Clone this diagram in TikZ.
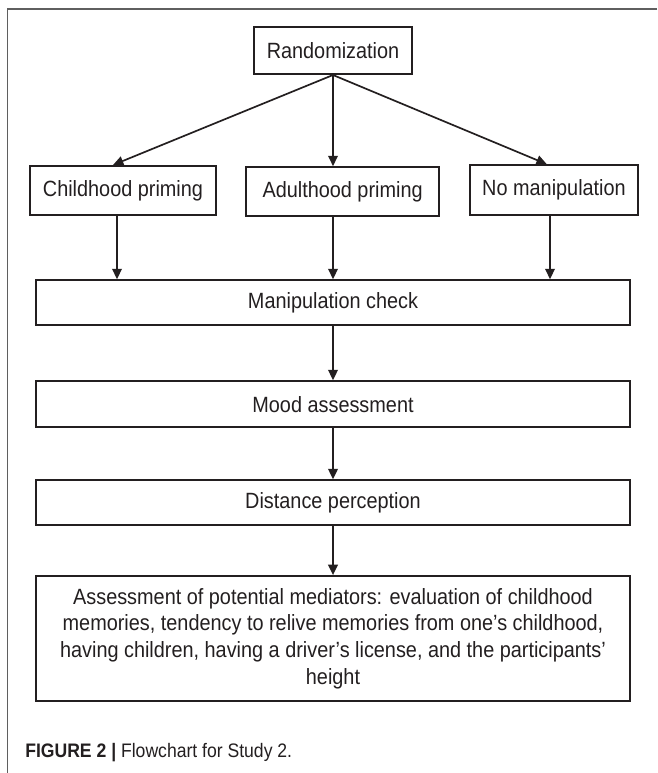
\documentclass[tikz,border=0pt]{standalone}
\usepackage{fontspec}
\setmainfont{Liberation Sans}[FakeStretch=0.9]
\usepackage{tikz}
\usetikzlibrary{positioning}
\usetikzlibrary{calc,arrows.meta}

\definecolor{inkgray}{RGB}{35,31,32}
\definecolor{framegray}{RGB}{95,95,95}

\tikzset{
	box/.style = {draw=inkgray, line width=1.3pt, rectangle, inner sep=2pt,
		text=inkgray, font=\fontsize{15.7}{19}\selectfont, align=center},
	widebox/.style = {box, minimum width=14.85cm, minimum height=1.13cm},
	flow/.style = {draw=inkgray, line width=1.2pt,
		-{Triangle[length=0.26cm, width=0.24cm]}},
}

\begin{document}
\begin{tikzpicture}
	
	% ------------------------------------------------
	% Ensure the dimensions of graphic are appropriate
	\useasboundingbox (0,0) rectangle (16.425,-19.325);
	
	% Page frame (only top and left rules show)
	\draw[framegray, line width=0.9pt] (16.425,-0.225) -- (0.18,-0.225) -- (0.18,-19.325);
	
	% ------------------------------------------------
	% Relevant coordinates
	\coordinate (Beg) at (8.325,-1.2625);
	
	\path (Beg) +(-5.25,-3.5)  coordinate (C1);
	\path (Beg) +( 0.24,-3.53) coordinate (C2);
	\path (Beg) +( 5.525,-3.49) coordinate (C3);
	
	%%%%%%%%%%%%%%%%%%%%%%%%%%%%%%%%%%%%%%%%%
	% Boxes
	\node[box, minimum width=3.95cm, minimum height=1.18cm] (Rand) at (Beg) {Randomization};
	
	\node[box, minimum width=4.65cm, minimum height=1.23cm] (Child) at (C1) {Childhood priming};
	\node[box, minimum width=4.83cm, minimum height=1.23cm] (Adult) at (C2) {Adulthood priming};
	\node[box, minimum width=4.2cm, minimum height=1.25cm] (NoMan) at (C3) {No manipulation};
	
	% Manipulation check sits under the middle of the top box
	\path (Adult.south -| Beg) +(0,-1.55cm) coordinate (ManipTop);
	\node[widebox, below = 0cm of ManipTop] (Manip) {Manipulation check};
	
	\node[widebox, minimum height=1.15cm, below = 1.35cm of Manip] (Mood) {Mood assessment};
	\node[widebox, below = 1.28cm of Mood] (Dist) {Distance perception};
	\node[widebox, minimum height=3.13cm, below = 1.22cm of Dist] (Assess)
		{Assessment of potential mediators: evaluation of childhood\\
		memories, tendency to relive memories from one's childhood,\\
		having children, having a driver's license, and the participants'\\
		height};
	
	%%%%%%%%%%%%%%%%%%%%%%%%%%%%%%%%%%%%%%%%%
	% Arrows
	\draw[flow] (Rand.south) -- ([xshift=-0.25cm]Child.north);
	\draw[flow] (Rand.south) -- (Rand.south |- Adult.north);
	\draw[flow] (Rand.south) -- ([xshift=-0.18cm]NoMan.north);
	
	\draw[flow] ([xshift=-0.15cm]Child.south) -- ([xshift=-0.15cm]Child.south |- Manip.north);
	\draw[flow] (Rand.south |- Adult.south) -- (Rand.south |- Manip.north);
	\draw[flow] ([xshift=-0.1cm]NoMan.south) -- ([xshift=-0.1cm]NoMan.south |- Manip.north);
	
	\draw[flow] (Manip) -- (Mood);
	\draw[flow] (Mood) -- (Dist);
	\draw[flow] (Dist) -- (Assess);
	
	% Caption
	\node[anchor=base west, inner sep=0pt, text=inkgray, font=\fontsize{13.9}{16}\selectfont]
		(Caption) at (0.625,-18.925) {\textbf{FIGURE 2 |} Flowchart for Study 2.};
	
\end{tikzpicture}
\end{document}
